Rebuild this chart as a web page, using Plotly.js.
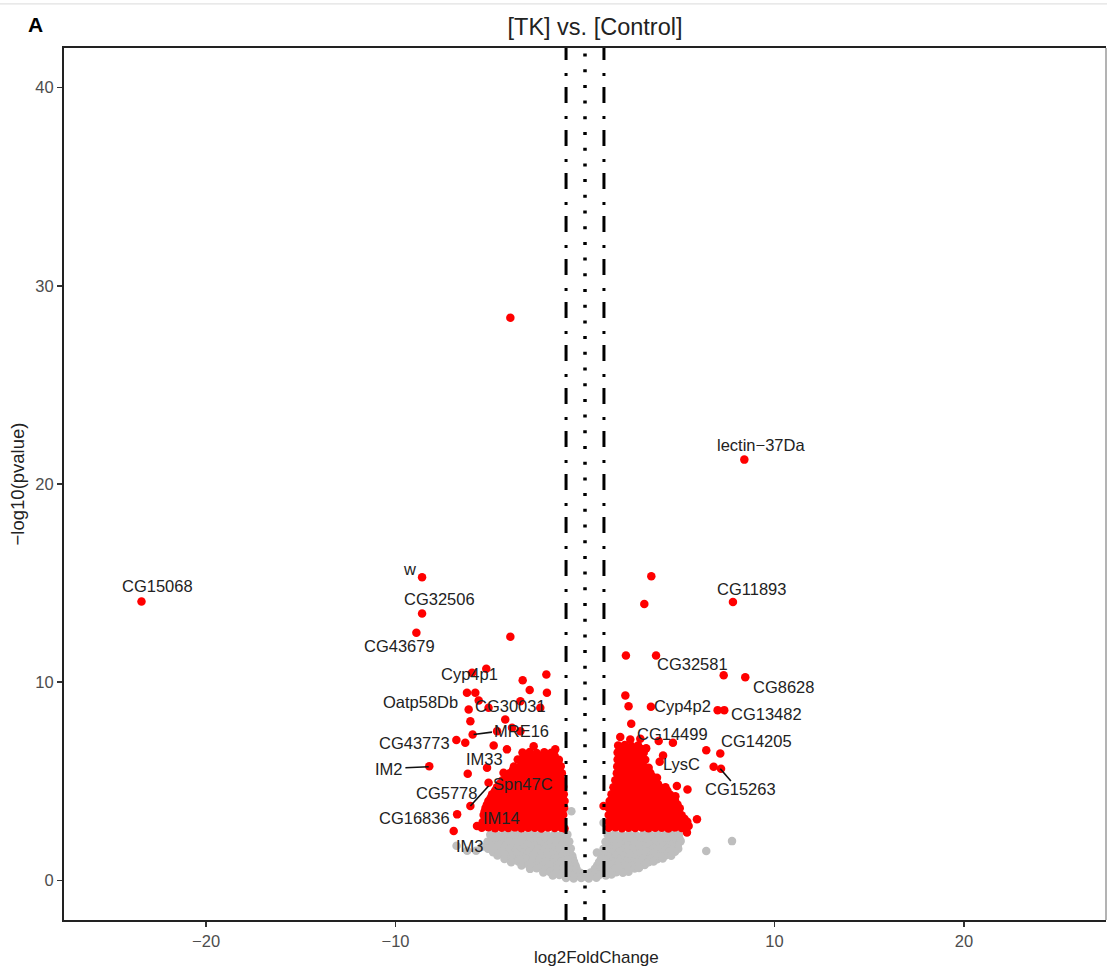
<!DOCTYPE html>
<html>
<head>
<meta charset="utf-8">
<script src="https://cdn.plot.ly/plotly-3.0.1.min.js"></script>
<style>html,body{margin:0;padding:0;background:#fff;}#chart{width:1107px;height:974px;}</style>
</head>
<body>
<div id="chart"></div>
<script>
// ---- DATA ----
const xTickVals = [-20, -10, 10, 20];
const yTickVals = [0, 10, 20, 30, 40];
const fcCutoffs = [-1, 1];
const fcCenter = 0;

// not significant genes [log2FC, -log10 p]
const grayPoints = [
  [-5.0,2.3],[-4.62,2.27],[-4.25,2.33],[-3.87,2.29],[-3.5,2.31],[-3.12,2.27],[-2.75,2.33],[-2.37,2.3],[-2.0,2.28],[-1.62,2.32],[-1.25,2.29],[-0.93,2.31],
  [1.2,2.3],[1.58,2.33],[1.95,2.28],[2.33,2.31],[2.7,2.27],[3.08,2.32],[3.45,2.29],[3.83,2.31],[4.2,2.28],[4.58,2.32],[4.95,2.3],
  [-4.8,2.12],[-4.43,2.14],[-4.05,2.1],[-3.68,2.13],[-3.3,2.11],[-2.93,2.14],[-2.55,2.1],[-2.18,2.13],[-1.8,2.12],[-1.43,2.1],[-1.07,2.13],
  [1.27,2.12],[1.64,2.1],[2.02,2.14],[2.39,2.11],[2.77,2.13],[3.14,2.1],[3.52,2.14],[3.89,2.12],[4.27,2.1],[4.64,2.13],[4.98,2.11],
  [-5.15,1.95],[-4.77,1.98],[-4.4,1.93],[-4.02,1.96],[-3.65,1.94],[-3.27,1.97],[-2.9,1.93],[-2.52,1.96],[-2.15,1.95],[-1.77,1.92],[-1.4,1.97],[-1.1,1.94],[-0.83,1.96],
  [1.08,1.95],[1.45,1.92],[1.82,1.97],[2.2,1.94],[2.57,1.96],[2.95,1.93],[3.32,1.97],[3.7,1.95],[4.07,1.92],[4.45,1.96],[4.82,1.94],[5.05,1.98],
  [-4.93,1.77],[-4.55,1.79],[-4.18,1.75],[-3.8,1.78],[-3.43,1.76],[-3.05,1.79],[-2.68,1.75],[-2.3,1.78],[-1.93,1.77],[-1.57,1.75],[-1.22,1.78],[-0.95,1.76],
  [1.16,1.77],[1.54,1.75],[1.9,1.79],[2.28,1.76],[2.66,1.78],[3.03,1.75],[3.4,1.79],[3.78,1.77],[4.15,1.75],[4.53,1.78],[4.9,1.76],
  [-5.12,1.6],[-4.72,1.63],[-4.35,1.58],[-3.97,1.61],[-3.6,1.59],[-3.22,1.62],[-2.85,1.58],[-2.47,1.61],[-2.1,1.6],[-1.72,1.57],[-1.35,1.62],[-1.02,1.59],[-0.75,1.61],
  [0.98,1.6],[1.35,1.57],[1.72,1.62],[2.1,1.59],[2.47,1.61],[2.85,1.58],[3.22,1.62],[3.6,1.6],[3.97,1.57],[4.35,1.61],[4.72,1.63],[4.92,1.6],
  [-4.85,1.42],[-4.45,1.44],[-4.08,1.4],[-3.7,1.43],[-3.33,1.41],[-2.95,1.44],[-2.58,1.4],[-2.2,1.43],[-1.83,1.42],[-1.46,1.4],[-1.1,1.43],[-0.82,1.41],
  [1.06,1.42],[1.43,1.4],[1.8,1.44],[2.18,1.41],[2.55,1.43],[2.93,1.4],[3.3,1.44],[3.68,1.42],[4.05,1.4],[4.43,1.43],[4.75,1.45],
  [-4.62,1.25],[-4.22,1.28],[-3.85,1.23],[-3.47,1.26],[-3.1,1.24],[-2.72,1.27],[-2.35,1.23],[-1.97,1.26],[-1.6,1.25],[-1.22,1.22],[-0.92,1.27],[-0.67,1.24],
  [0.9,1.25],[1.25,1.22],[1.62,1.27],[2.0,1.24],[2.37,1.26],[2.75,1.23],[3.12,1.27],[3.5,1.25],[3.87,1.22],[4.25,1.26],[4.55,1.24],
  [-4.25,1.08],[-3.87,1.1],[-3.5,1.06],[-3.12,1.09],[-2.75,1.07],[-2.37,1.1],[-2.0,1.06],[-1.62,1.09],[-1.25,1.08],[-0.9,1.06],[-0.64,1.09],
  [0.84,1.08],[1.18,1.06],[1.55,1.1],[1.92,1.07],[2.3,1.09],[2.67,1.06],[3.05,1.1],[3.42,1.08],[3.8,1.06],[4.1,1.1],
  [-3.9,0.92],[-3.52,0.95],[-3.15,0.9],[-2.77,0.93],[-2.4,0.91],[-2.02,0.94],[-1.65,0.9],[-1.27,0.93],[-0.9,0.92],[-0.58,0.94],
  [0.74,0.92],[1.1,0.89],[1.47,0.94],[1.85,0.91],[2.22,0.93],[2.6,0.9],[2.97,0.94],[3.35,0.92],[3.62,0.95],
  [-3.35,0.75],[-2.97,0.77],[-2.6,0.73],[-2.22,0.76],[-1.85,0.74],[-1.47,0.77],[-1.1,0.73],[-0.75,0.76],[-0.5,0.75],
  [0.64,0.75],[1.0,0.73],[1.37,0.77],[1.73,0.74],[2.1,0.76],[2.47,0.73],[2.83,0.77],[3.15,0.78],
  [-2.9,0.58],[-2.55,0.61],[-2.2,0.56],[-1.85,0.59],[-1.5,0.57],[-1.15,0.6],[-0.8,0.56],[-0.45,0.6],
  [0.52,0.58],[0.88,0.55],[1.22,0.6],[1.58,0.57],[1.92,0.59],[2.28,0.56],[2.62,0.6],[2.85,0.62],
  [-2.2,0.4],[-1.85,0.42],[-1.5,0.38],[-1.15,0.41],[-0.8,0.39],[-0.45,0.42],[-0.25,0.38],
  [0.3,0.4],[0.6,0.38],[0.95,0.42],[1.3,0.39],[1.65,0.41],[2.0,0.38],[2.3,0.43],
  [-1.7,0.25],[-1.35,0.27],[-1.0,0.23],[-0.65,0.26],[-0.3,0.22],[0.05,0.2],[0.4,0.24],[0.75,0.27],[1.1,0.25],[1.4,0.3],
  [-1.0,0.12],[-0.6,0.1],[-0.2,0.12],[0.2,0.1],[0.6,0.13],
  [-6.78,1.75],[-6.22,1.5],[-5.75,1.5],[-5.45,1.7],
  [6.4,1.48],[7.76,1.98],[-0.72,3.49],[0.98,2.91],[0.63,1.4]
];

// significant genes [log2FC, -log10 p]
const redPoints = [
  // isolated points
  [-23.41,14.07],[-8.6,15.3],[-8.6,13.46],[-8.9,12.49],[-3.94,28.39],[-3.94,12.29],
  [-5.96,10.47],[-5.21,10.68],[-2.04,10.39],[-3.29,10.1],[-2.92,9.6],[-2.01,9.47],[-6.23,9.47],[-5.79,9.47],
  [-5.61,9.08],[-6.14,8.62],[-5.09,8.71],[-2.36,8.71],[-3.41,9.04],[-6.05,8.03],[-4.21,8.12],[-3.85,7.7],
  [-4.64,7.53],[-3.41,7.53],[-5.93,7.36],[-6.79,7.08],[-6.32,6.94],[-4.82,6.81],[-2.71,6.77],[-1.57,6.61],
  [-4.12,6.61],[-3.24,6.27],[-8.22,5.76],[-5.17,5.68],[-4.3,5.43],[-6.19,5.38],[-4.12,4.76],[-5.09,4.93],
  [-6.05,3.75],[-6.75,3.33],[-6.93,2.49],[-5.7,2.74],
  [8.41,21.23],[7.81,14.05],[3.5,15.35],[3.13,13.95],[2.16,11.35],[3.75,11.35],[7.32,10.35],[8.46,10.25],
  [2.13,9.33],[2.3,8.79],[3.48,8.76],[7.0,8.59],[7.35,8.59],[2.44,7.9],[1.86,7.23],[2.39,7.11],[2.92,7.15],
  [3.89,7.03],[4.64,6.94],[6.4,6.56],[7.14,6.4],[3.23,6.66],[4.12,6.3],[3.94,5.98],[6.79,5.73],[7.18,5.63],
  [3.36,5.68],[3.8,5.18],[4.85,4.76],[5.41,4.59],[4.77,4.25],[5.91,3.08],[5.47,2.74],[5.38,2.42],[5.03,2.91],[0.98,3.75],
  // dense left group
  [-3.3,6.45],[-2.92,6.48],[-2.55,6.43],[-2.15,6.47],[-1.78,6.44],
  [-3.1,6.28],[-2.73,6.3],[-2.35,6.26],[-1.97,6.29],[-1.6,6.27],
  [-3.55,6.1],[-3.15,6.13],[-2.78,6.08],[-2.42,6.11],[-2.05,6.09],[-1.7,6.12],[-1.38,6.08],
  [-3.35,5.93],[-2.97,5.95],[-2.6,5.91],[-2.23,5.94],[-1.87,5.92],[-1.53,5.95],
  [-3.75,5.75],[-3.38,5.78],[-3.02,5.73],[-2.66,5.76],[-2.3,5.74],[-1.95,5.77],[-1.6,5.73],[-1.28,5.76],
  [-3.8,5.58],[-3.44,5.6],[-3.08,5.56],[-2.72,5.59],[-2.37,5.57],[-2.02,5.6],[-1.68,5.56],[-1.36,5.59],
  [-3.98,5.4],[-3.62,5.43],[-3.26,5.38],[-2.9,5.41],[-2.55,5.39],[-2.2,5.42],[-1.85,5.38],[-1.52,5.41],[-1.22,5.4],
  [-4.15,5.22],[-3.8,5.24],[-3.44,5.2],[-3.08,5.23],[-2.72,5.21],[-2.37,5.24],[-2.02,5.2],[-1.68,5.23],[-1.34,5.22],
  [-4.35,5.05],[-3.98,5.08],[-3.62,5.03],[-3.26,5.06],[-2.9,5.04],[-2.55,5.07],[-2.2,5.03],[-1.85,5.06],[-1.5,5.05],[-1.18,5.02],
  [-4.5,4.88],[-4.1,4.9],[-3.74,4.86],[-3.38,4.89],[-3.02,4.87],[-2.68,4.9],[-2.33,4.86],[-1.98,4.89],[-1.63,4.88],[-1.3,4.86],
  [-4.65,4.7],[-4.28,4.73],[-3.92,4.68],[-3.56,4.71],[-3.2,4.69],[-2.85,4.72],[-2.5,4.68],[-2.15,4.71],[-1.8,4.7],[-1.45,4.67],[-1.15,4.72],
  [-4.75,4.52],[-4.4,4.54],[-4.05,4.5],[-3.7,4.53],[-3.33,4.51],[-2.98,4.54],[-2.63,4.5],[-2.28,4.53],[-1.93,4.52],[-1.58,4.5],[-1.27,4.53],
  [-4.9,4.35],[-4.55,4.38],[-4.2,4.33],[-3.85,4.36],[-3.5,4.34],[-3.15,4.37],[-2.8,4.33],[-2.45,4.36],[-2.1,4.35],[-1.75,4.32],[-1.42,4.37],[-1.12,4.34],
  [-4.98,4.17],[-4.62,4.19],[-4.28,4.15],[-3.92,4.18],[-3.52,4.16],[-3.18,4.19],[-2.82,4.15],[-2.48,4.18],[-2.12,4.17],[-1.78,4.15],[-1.44,4.18],[-1.18,4.16],
  [-5.1,4.0],[-4.75,4.03],[-4.4,3.98],[-4.05,4.01],[-3.7,3.99],[-3.35,4.02],[-3.0,3.98],[-2.65,4.01],[-2.3,4.0],[-1.95,3.97],[-1.6,4.02],[-1.28,3.99],[-1.08,4.01],
  [-5.18,3.82],[-4.82,3.84],[-4.48,3.8],[-4.12,3.83],[-3.77,3.81],[-3.42,3.84],[-3.08,3.8],[-2.72,3.83],[-2.38,3.82],[-2.02,3.8],[-1.68,3.83],[-1.35,3.81],
  [-5.25,3.65],[-4.9,3.68],[-4.55,3.63],[-4.2,3.66],[-3.85,3.64],[-3.5,3.67],[-3.15,3.63],[-2.8,3.66],[-2.45,3.65],[-2.1,3.62],[-1.75,3.67],[-1.42,3.64],[-1.1,3.66],
  [-5.3,3.47],[-4.95,3.49],[-4.6,3.45],[-4.25,3.48],[-3.9,3.46],[-3.55,3.49],[-3.2,3.45],[-2.85,3.48],[-2.5,3.47],[-2.15,3.45],[-1.8,3.48],[-1.45,3.46],[-1.2,3.49],
  [-5.35,3.3],[-5.0,3.33],[-4.65,3.28],[-4.3,3.31],[-3.95,3.29],[-3.6,3.32],[-3.25,3.28],[-2.9,3.31],[-2.55,3.3],[-2.2,3.27],[-1.85,3.32],[-1.5,3.29],[-1.15,3.31],
  [-5.2,3.12],[-4.85,3.14],[-4.5,3.1],[-4.15,3.13],[-3.8,3.11],[-3.45,3.14],[-3.1,3.1],[-2.75,3.13],[-2.4,3.12],[-2.05,3.1],[-1.7,3.13],[-1.35,3.11],
  [-5.4,2.95],[-5.05,2.98],[-4.7,2.93],[-4.35,2.96],[-4.0,2.94],[-3.65,2.97],[-3.3,2.93],[-2.95,2.96],[-2.6,2.95],[-2.25,2.92],[-1.9,2.97],[-1.55,2.94],[-1.2,2.96],
  [-5.3,2.8],[-4.92,2.82],[-4.57,2.78],[-4.22,2.81],[-3.87,2.79],[-3.52,2.82],[-3.17,2.78],[-2.82,2.81],[-2.47,2.8],[-2.12,2.78],[-1.77,2.81],[-1.42,2.79],
  [-5.45,2.65],[-5.1,2.68],[-4.75,2.63],[-4.4,2.66],[-4.05,2.64],[-3.7,2.67],[-3.35,2.63],[-3.0,2.66],[-2.65,2.65],[-2.3,2.62],[-1.95,2.67],[-1.6,2.64],[-1.25,2.66],[-1.08,2.62],
  // dense right group
  [1.75,6.8],[2.1,6.83],[2.45,6.78],[2.8,6.81],
  [1.92,6.62],[2.28,6.64],[2.63,6.6],[2.98,6.63],
  [1.72,6.45],[2.08,6.48],[2.45,6.43],[2.82,6.46],[3.1,6.44],
  [1.9,6.28],[2.27,6.3],[2.63,6.26],[2.98,6.29],
  [1.72,6.1],[2.08,6.13],[2.45,6.08],[2.82,6.11],[3.18,6.09],
  [1.9,5.93],[2.27,5.95],[2.63,5.91],[3.0,5.94],
  [1.7,5.75],[2.05,5.78],[2.4,5.73],[2.75,5.76],[3.1,5.74],
  [1.87,5.58],[2.22,5.6],[2.57,5.56],[2.92,5.59],[3.27,5.57],
  [1.68,5.4],[2.02,5.43],[2.38,5.38],[2.72,5.41],[3.08,5.39],[3.45,5.42],
  [1.8,5.22],[2.15,5.24],[2.5,5.2],[2.85,5.23],[3.2,5.21],[3.55,5.24],
  [1.6,5.05],[1.95,5.08],[2.3,5.03],[2.65,5.06],[3.0,5.04],[3.35,5.07],[3.7,5.03],
  [1.75,4.88],[2.1,4.9],[2.45,4.86],[2.8,4.89],[3.15,4.87],[3.5,4.9],[3.85,4.86],
  [1.5,4.7],[1.85,4.73],[2.2,4.68],[2.55,4.71],[2.9,4.69],[3.25,4.72],[3.6,4.68],[3.95,4.71],[4.25,4.7],
  [1.58,4.52],[1.93,4.54],[2.28,4.5],[2.63,4.53],[2.98,4.51],[3.33,4.54],[3.68,4.5],[4.03,4.53],[4.35,4.52],
  [1.4,4.35],[1.75,4.38],[2.1,4.33],[2.45,4.36],[2.8,4.34],[3.15,4.37],[3.5,4.33],[3.85,4.36],[4.2,4.35],[4.5,4.32],
  [1.48,4.17],[1.83,4.19],[2.18,4.15],[2.53,4.18],[2.88,4.16],[3.23,4.19],[3.58,4.15],[3.93,4.18],[4.28,4.17],[4.6,4.15],
  [1.3,4.0],[1.65,4.03],[2.0,3.98],[2.35,4.01],[2.7,3.99],[3.05,4.02],[3.4,3.98],[3.75,4.01],[4.1,4.0],[4.45,3.97],[4.75,4.02],
  [1.43,3.82],[1.78,3.84],[2.13,3.8],[2.48,3.83],[2.83,3.81],[3.18,3.84],[3.53,3.8],[3.88,3.83],[4.23,3.82],[4.58,3.8],[4.88,3.83],
  [1.25,3.65],[1.6,3.68],[1.95,3.63],[2.3,3.66],[2.65,3.64],[3.0,3.67],[3.35,3.63],[3.7,3.66],[4.05,3.65],[4.4,3.62],[4.75,3.67],[5.0,3.64],
  [1.43,3.47],[1.78,3.49],[2.13,3.45],[2.48,3.48],[2.83,3.46],[3.18,3.49],[3.53,3.45],[3.88,3.48],[4.23,3.47],[4.58,3.45],[4.92,3.48],
  [1.25,3.3],[1.6,3.33],[1.95,3.28],[2.3,3.31],[2.65,3.29],[3.0,3.32],[3.35,3.28],[3.7,3.31],[4.05,3.3],[4.4,3.27],[4.75,3.32],[5.1,3.29],
  [1.43,3.12],[1.78,3.14],[2.13,3.1],[2.48,3.13],[2.83,3.11],[3.18,3.14],[3.53,3.1],[3.88,3.13],[4.23,3.12],[4.58,3.1],[4.92,3.13],[5.25,3.11],
  [1.25,2.95],[1.6,2.98],[1.95,2.93],[2.3,2.96],[2.65,2.94],[3.0,2.97],[3.35,2.93],[3.7,2.96],[4.05,2.95],[4.4,2.92],[4.75,2.97],[5.1,2.94],[5.4,2.96],
  [1.43,2.8],[1.78,2.82],[2.13,2.78],[2.48,2.81],[2.83,2.79],[3.18,2.82],[3.53,2.78],[3.88,2.81],[4.23,2.8],[4.58,2.78],[4.92,2.81],[5.25,2.79],
  [1.25,2.65],[1.6,2.68],[1.95,2.63],[2.3,2.66],[2.65,2.64],[3.0,2.67],[3.35,2.63],[3.7,2.66],[4.05,2.65],[4.4,2.62],[4.75,2.67],[5.1,2.64]
];

// gene labels (text, label centre x, label centre y)
const labelText = ["CG15068","w","CG32506","CG43679","Cyp4p1","Oatp58Db","CG30031","MRE16","CG43773","IM2","IM33","CG5778","Spn47C","CG16836","IM14","IM3",
                   "lectin\u221237Da","CG11893","CG32581","CG8628","Cyp4p2","CG13482","CG14499","CG14205","LysC","CG15263"];
const labelX = [-22.54,-9.27,-7.69,-9.8,-6.1,-8.66,-3.94,-3.36,-9.0,-10.36,-5.31,-7.32,-3.28,-9.01,-4.4,-6.05,
                9.29,8.77,5.69,10.46,5.13,9.6,4.62,9.06,5.1,8.2];
const labelY = [14.83,15.73,14.22,11.82,10.39,8.99,8.79,7.53,6.91,5.63,6.1,4.42,4.84,3.13,3.16,1.73,
                21.99,14.71,10.93,9.75,8.79,8.37,7.4,7.03,5.85,4.62];

// label connector segments (start, end; null separates)
const segX = [-5.88,-4.91,null,-9.48,-8.25,null,-6.05,-5.09,null,7.14,7.7];
const segY = [7.36,7.48,null,5.68,5.73,null,3.75,4.76,null,5.63,5.01];

// ---- PLOT ----
const FONT = "Liberation Sans, Arial, Helvetica, sans-serif";
const traces = [
  {type:'scatter', mode:'markers', x:grayPoints.map(p=>p[0]), y:grayPoints.map(p=>p[1]),
   marker:{color:'#BEBEBE', size:8.5, line:{width:0}}, hoverinfo:'skip'},
  {type:'scatter', mode:'markers', x:redPoints.map(p=>p[0]), y:redPoints.map(p=>p[1]),
   marker:{color:'#FF0000', size:8.5, line:{width:0}}, hoverinfo:'skip'},
  {type:'scatter', mode:'lines', x:segX, y:segY, line:{color:'#111', width:1.6}, connectgaps:false, hoverinfo:'skip'}
];

const shapes = [];
fcCutoffs.forEach(v => shapes.push({type:'line', xref:'x', yref:'paper', x0:v, x1:v, y0:0, y1:1,
  line:{color:'#000', width:3, dash:'16px,11px,3px,13px'}}));
shapes.push({type:'line', xref:'x', yref:'paper', x0:fcCenter, x1:fcCenter, y0:0, y1:1,
  line:{color:'#000', width:3.5, dash:'3px,12.7px'}});
shapes.push({type:'line', xref:'paper', yref:'paper', x0:1, x1:1, y0:0, y1:1, line:{color:'#9a9a9a', width:1.5}});
shapes.push({type:'line', xref:'paper', yref:'paper', x0:-0.07, x1:1.01, y0:1.0505, y1:1.0505, line:{color:'#e2e2e2', width:1.2}});

const annotations = labelText.map((t,i)=>({x:labelX[i], y:labelY[i], xref:'x', yref:'y', text:t, showarrow:false,
  xanchor:'center', yanchor:'middle', font:{family:FONT, size:16.5, color:'#222'}}));
annotations.push({xref:'paper', yref:'paper', x:-0.027, y:1.027, text:'<b>A</b>', showarrow:false,
  xanchor:'center', yanchor:'middle', font:{family:FONT, size:21, color:'#000'}});
// x-axis title (centred on the full, partly cropped panel)
annotations.push({xref:'paper', yref:'paper', x:0.5115, y:-0.0425, text:'log2FoldChange', showarrow:false,
  xanchor:'center', yanchor:'middle', font:{family:FONT, size:17, color:'#222'}});

const layout = {
  width:1107, height:974,
  margin:{l:64, r:1, t:48, b:54},
  paper_bgcolor:'#fff', plot_bgcolor:'#fff',
  showlegend:false,
  title:{text:'[TK] vs. [Control]', x:0.5096, xref:'paper', y:0.972, yref:'container', yanchor:'middle', xanchor:'center',
         font:{family:FONT, size:23.5, color:'#222'}},
  xaxis:{range:[-27.5,27.5], tickvals:xTickVals, ticks:'outside', ticklen:5, tickwidth:1.5, tickcolor:'#333',
         showline:true, linecolor:'#222', linewidth:2, mirror:true, showgrid:false, zeroline:false,
         tickfont:{family:FONT, size:16.5, color:'#4d4d4d'}},
  yaxis:{range:[-2,42], tickvals:yTickVals, ticks:'outside', ticklen:5, tickwidth:1.5, tickcolor:'#333',
         showline:true, linecolor:'#222', linewidth:2, showgrid:false, zeroline:false,
         tickfont:{family:FONT, size:16.5, color:'#4d4d4d'},
         title:{text:'\u2212log10(pvalue)', standoff:6, font:{family:FONT, size:18.5, color:'#222'}}},
  shapes:shapes, annotations:annotations
};
Plotly.newPlot('chart', traces, layout, {staticPlot:true, displayModeBar:false});
</script>
</body>
</html>
